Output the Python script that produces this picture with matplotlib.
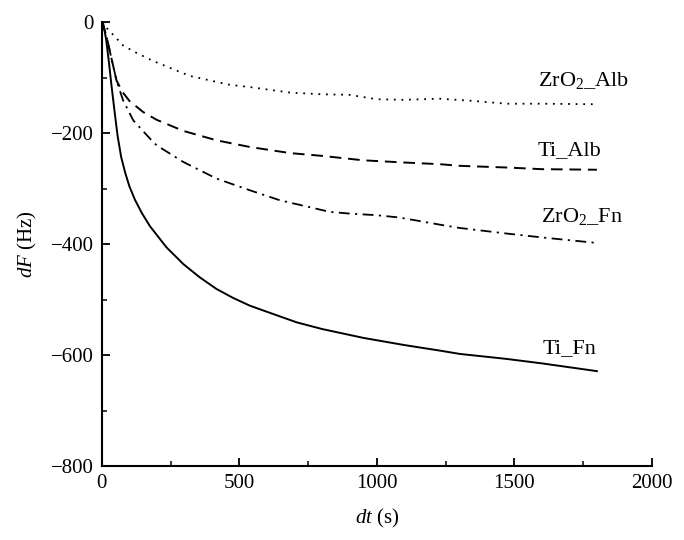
import numpy as np
import matplotlib.pyplot as plt
from matplotlib.ticker import MultipleLocator

plt.rcParams['font.family'] = ['Liberation Serif', 'DejaVu Serif']
plt.rcParams['mathtext.fontset'] = 'custom'
plt.rcParams['mathtext.rm'] = 'Liberation Serif'
plt.rcParams['mathtext.it'] = 'Liberation Serif:italic'

# Ti_Fn (solid)
t_ti_fn = [0, 5, 15, 25, 35, 47, 57, 70, 85, 100, 120, 145, 175, 235, 296, 356,
           417, 477, 538, 600, 708, 800, 950, 1100, 1229, 1302, 1472, 1600, 1700,
           1800]
f_ti_fn = [0, -3, -30, -70, -115, -165, -205, -243, -272, -296, -320, -344, -368,
           -406, -436, -460, -481, -497, -511, -522, -541, -553, -569, -582, -592,
           -598, -607, -615, -622, -629]

# Ti_Alb (dashed)
t_ti_alb = [0, 15, 30, 53, 75, 100, 150, 199, 296, 417, 538, 684, 800, 950, 1100,
            1229, 1302, 1472, 1600, 1800]
f_ti_alb = [0, -22, -55, -105, -126, -142, -162, -176, -196, -213, -225, -236,
            -241, -249, -253, -256, -259, -262, -265, -266]

# ZrO2_Fn (dash-dot)
t_zr_fn = [0, 15, 30, 53, 77, 114, 175, 199, 296, 417, 538, 647, 829, 900, 1000,
           1080, 1150, 1229, 1302, 1472, 1600, 1800]
f_zr_fn = [0, -22, -55, -105, -141, -177, -210, -222, -252, -282, -303, -321, -342,
           -345, -348, -352, -358, -365, -371, -381, -388, -398]

# ZrO2_Alb (dotted)
t_zr_alb = [0, 20, 47, 77, 120, 186, 320, 465, 538, 684, 800, 900, 1000, 1100,
            1229, 1350, 1472, 1600, 1800]
f_zr_alb = [0, -12, -26, -42, -54, -70, -97, -113, -117, -127, -130, -131, -139,
            -140, -138, -142, -147, -147, -148]

labels = [r'ZrO$_2$_Alb', 'Ti_Alb', r'ZrO$_2$_Fn', 'Ti_Fn']
label_pos = [(1750, -105), (1700, -231), (1745, -351), (1700, -588)]

fig = plt.figure(figsize=(6.84, 5.4), dpi=100)
ax = fig.add_axes([0.149, 0.137, 0.804, 0.822])

ax.plot(t_ti_fn, f_ti_fn, color='black', lw=1.4, ls='-')
ax.plot(t_ti_alb, f_ti_alb, color='black', lw=1.4, ls=(0, (6, 3.5)))
ax.plot(t_zr_fn, f_zr_fn, color='black', lw=1.3, ls=(0, (6, 3, 1.2, 3)))
ax.plot(t_zr_alb, f_zr_alb, color='black', lw=1.3, ls=(0, (1, 3.2)))

for lab, (x, y) in zip(labels, label_pos):
    ax.text(x, y, lab, fontsize=16, ha='center', va='center')

ax.set_xlim(0, 2000)
ax.set_ylim(-800, 0)
ax.xaxis.set_major_locator(MultipleLocator(500))
ax.xaxis.set_minor_locator(MultipleLocator(250))
ax.yaxis.set_major_locator(MultipleLocator(200))
ax.yaxis.set_minor_locator(MultipleLocator(100))
ax.spines['top'].set_visible(False)
ax.spines['right'].set_visible(False)
for s in ['left', 'bottom']:
    ax.spines[s].set_linewidth(1.5)
ax.tick_params(which='major', direction='in', length=6, width=1.3, labelsize=15, pad=6)
ax.tick_params(which='minor', direction='in', length=3.5, width=1.1)

ax.set_xlabel(r'$dt$ (s)', fontsize=15, labelpad=10)
ax.set_ylabel(r'$dF$ (Hz)', fontsize=15, labelpad=8)

fig.savefig('out.png', dpi=100)
